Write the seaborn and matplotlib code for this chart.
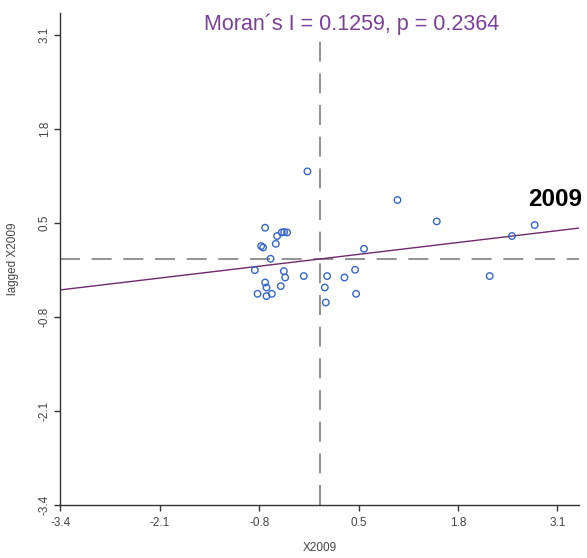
import pandas as pd
import matplotlib
matplotlib.use("Agg")
import matplotlib.pyplot as plt
import seaborn as sns

# standardized values and their spatial lag
x2009 = [-0.169, 1.008, 1.522, 2.803, 2.506, 2.214, 0.571, 0.454,
         0.467, 0.315, 0.088, 0.058, 0.071, -0.217, -0.461, -0.478,
         -0.518, -0.635, -0.705, -0.822, -0.705, -0.723, -0.857, -0.652,
         -0.775, -0.749, -0.583, -0.723, -0.566, -0.505, -0.474, -0.435]
lagged_x2009 = [1.209, 0.814, 0.518, 0.468, 0.316, -0.237, 0.140, -0.150,
                -0.482, -0.257, -0.237, -0.395, -0.602, -0.237, -0.257, -0.169,
                -0.376, -0.482, -0.514, -0.482, -0.395, -0.326, -0.155, 0.002,
                0.177, 0.158, 0.209, 0.431, 0.316, 0.366, 0.371, 0.366]

morans_i = 0.1259
p_value = 0.2364
year_label = "2009"
ticks = [-3.4, -2.1, -0.8, 0.5, 1.8, 3.1]

sns.set_theme(style="ticks")
plt.rcParams["font.family"] = ["Liberation Sans", "DejaVu Sans"]

df = pd.DataFrame({"x": x2009, "lag": lagged_x2009})

fig = plt.figure(figsize=(5.87, 5.58), dpi=100)
ax = fig.add_axes([0.103, 0.095, 0.883, 0.882])

# mean lines
ax.axvline(0, color="#7f7f7f", lw=1.2, dashes=(12, 7), zorder=1)
ax.axhline(0, color="#7f7f7f", lw=1.2, dashes=(12, 7), zorder=1)

# Moran regression line (slope = I)
ax.axline((0, 0), slope=morans_i, color="#6e2a6e", lw=1.0, zorder=2)

sns.scatterplot(data=df, x="x", y="lag", ax=ax, marker="o", s=22,
                facecolor="none", edgecolor="#3566c8", linewidth=1.0, zorder=3)

ax.set_xlim(-3.4, 3.38)
ax.set_ylim(-3.4, 3.4)
ax.set_xticks(ticks)
ax.set_yticks(ticks)
ax.set_xticklabels([f"{t}" for t in ticks], fontsize=8.5, color="#444444")
ax.set_yticklabels([f"{t}" for t in ticks], fontsize=8.5, color="#444444",
                   rotation=90, va="center")
ax.tick_params(axis="x", length=4, width=1, color="#333333", pad=5)
ax.tick_params(axis="y", length=4, width=1, color="#333333", pad=3)
ax.set_xlabel("X2009", fontsize=8.5, color="#444444", labelpad=9)
ax.set_ylabel("lagged X2009", fontsize=8.5, color="#444444", labelpad=14)
sns.despine(ax=ax)
for s in ["left", "bottom"]:
    ax.spines[s].set_color("#333333")
    ax.spines[s].set_linewidth(1.0)

ax.text(0.562, 0.976, f"Moran\u00b4s I = {morans_i}, p = {p_value}",
        transform=ax.transAxes, ha="center", va="center",
        fontsize=15.5, color="#7b3f99", zorder=4,
        bbox=dict(facecolor="white", edgecolor="none", pad=1))
ax.text(3.07, 0.818, year_label, ha="center", va="center",
        fontsize=17.5, fontweight="bold", color="black")

fig.savefig("out.png", dpi=100)
